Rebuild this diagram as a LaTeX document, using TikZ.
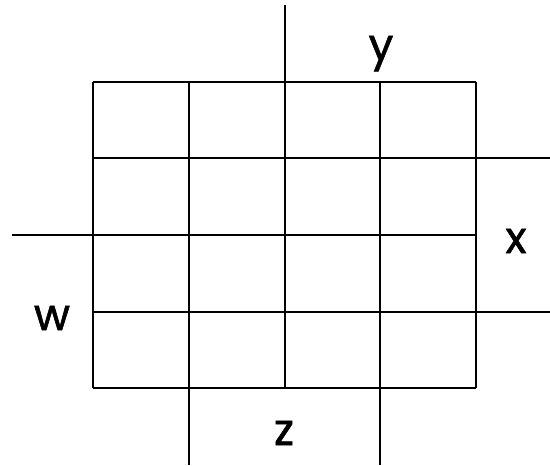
\documentclass[tikz,border=0pt]{standalone}
\usepackage{fontspec}
\setmainfont{Poppins}
\newfontfamily\lblfont[FakeBold=1.3]{Poppins}
\begin{document}
\begin{tikzpicture}[x=1pt,y=-1pt,
  kline/.style={line width=2.6pt,black},
  lbl/.style={font=\lblfont\fontsize{44}{44}\selectfont,anchor=base,inner sep=0pt}]
\useasboundingbox (0,0) rectangle (550,466);
% grid coordinates
\foreach \i/\xx in {0/93,1/189,2/285,3/380,4/476}{
  \foreach \j/\yy in {0/82,1/158,2/235,3/312,4/388}{
    \coordinate (g\i\j) at (\xx,\yy);
  }
}
\coordinate (topend) at (285,5);
\coordinate (leftend) at (12,235);
\coordinate (r1end) at (550,158);
\coordinate (r3end) at (550,312);
\coordinate (b1end) at (189,465);
\coordinate (b3end) at (380,465);
% grid
\foreach \i in {0,...,4}{ \draw[kline] (g\i0) -- (g\i4); }
\foreach \j in {0,...,4}{ \draw[kline] (g0\j) -- (g4\j); }
% extensions
\draw[kline] (topend) -- (g20);
\draw[kline] (leftend) -- (g02);
\draw[kline] (g41) -- (r1end);
\draw[kline] (g43) -- (r3end);
\draw[kline] (g14) -- (b1end);
\draw[kline] (g34) -- (b3end);
% labels
\node[lbl] (ly) at (381,60) {y};
\node[lbl] (lx) at (516,253) {x};
\node[lbl] (lw) at (52,330) {w};
\node[lbl] (lz) at (284,445) {z};
\end{tikzpicture}
\end{document}
